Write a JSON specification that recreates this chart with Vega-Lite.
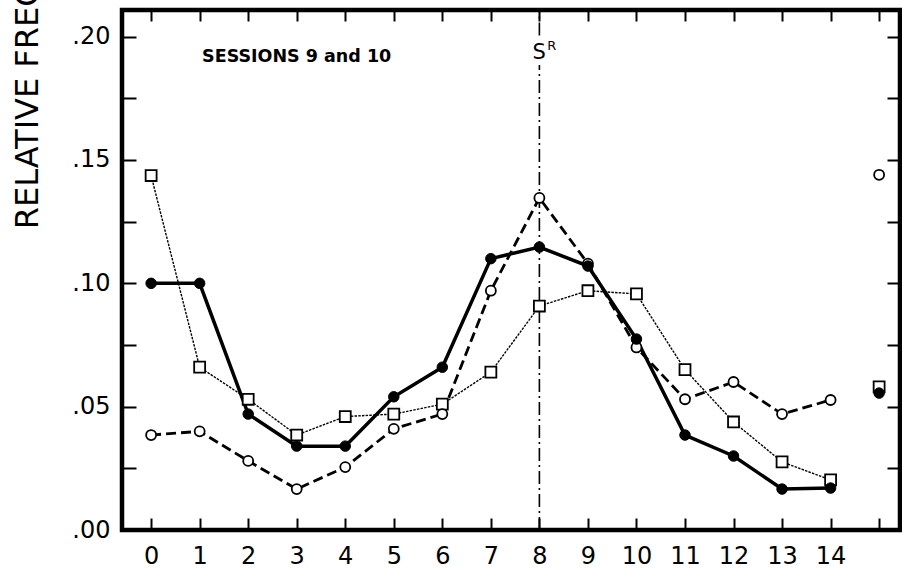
{
  "$schema": "https://vega.github.io/schema/vega-lite/v6.json",
  "width": 778,
  "height": 520,
  "autosize": "none",
  "padding": {"left": 122, "top": 10, "right": 2, "bottom": 41},
  "background": "white",
  "config": {
    "view": {"stroke": "black", "strokeWidth": 4.5},
    "axis": {"grid": false, "domain": false, "tickColor": "black", "tickWidth": 2, "labelColor": "black", "labelFont": "DejaVu Sans", "labelFontSize": 24}
  },
  "datasets": {
    "pts": [
      {"x": 0, "y": 0.100, "s": "filled"}, {"x": 1, "y": 0.100, "s": "filled"}, {"x": 2, "y": 0.047, "s": "filled"}, {"x": 3, "y": 0.034, "s": "filled"}, {"x": 4, "y": 0.034, "s": "filled"}, {"x": 5, "y": 0.054, "s": "filled"}, {"x": 6, "y": 0.066, "s": "filled"}, {"x": 7, "y": 0.110, "s": "filled"}, {"x": 8, "y": 0.1147, "s": "filled"}, {"x": 9, "y": 0.107, "s": "filled"}, {"x": 10, "y": 0.0774, "s": "filled"}, {"x": 11, "y": 0.0385, "s": "filled"}, {"x": 12, "y": 0.030, "s": "filled"}, {"x": 13, "y": 0.0166, "s": "filled"}, {"x": 14, "y": 0.017, "s": "filled"}, {"x": 15, "y": 0.0555, "s": "filled"},
      {"x": 0, "y": 0.0385, "s": "circle"}, {"x": 1, "y": 0.040, "s": "circle"}, {"x": 2, "y": 0.028, "s": "circle"}, {"x": 3, "y": 0.0166, "s": "circle"}, {"x": 4, "y": 0.0255, "s": "circle"}, {"x": 5, "y": 0.041, "s": "circle"}, {"x": 6, "y": 0.047, "s": "circle"}, {"x": 7, "y": 0.097, "s": "circle"}, {"x": 8, "y": 0.1346, "s": "circle"}, {"x": 9, "y": 0.108, "s": "circle"}, {"x": 10, "y": 0.074, "s": "circle"}, {"x": 11, "y": 0.053, "s": "circle"}, {"x": 12, "y": 0.060, "s": "circle"}, {"x": 13, "y": 0.047, "s": "circle"}, {"x": 14, "y": 0.0527, "s": "circle"}, {"x": 15, "y": 0.144, "s": "circle"},
      {"x": 0, "y": 0.1437, "s": "square"}, {"x": 1, "y": 0.066, "s": "square"}, {"x": 2, "y": 0.053, "s": "square"}, {"x": 3, "y": 0.0385, "s": "square"}, {"x": 4, "y": 0.046, "s": "square"}, {"x": 5, "y": 0.047, "s": "square"}, {"x": 6, "y": 0.051, "s": "square"}, {"x": 7, "y": 0.064, "s": "square"}, {"x": 8, "y": 0.0908, "s": "square"}, {"x": 9, "y": 0.097, "s": "square"}, {"x": 10, "y": 0.0957, "s": "square"}, {"x": 11, "y": 0.065, "s": "square"}, {"x": 12, "y": 0.0438, "s": "square"}, {"x": 13, "y": 0.0276, "s": "square"}, {"x": 14, "y": 0.0203, "s": "square"}, {"x": 15, "y": 0.058, "s": "square"}
    ],
    "sr": [
      {"x": 8, "y": 0, "y2": 0.1885},
      {"x": 8, "y": 0.2005, "y2": 0.2108}
    ],
    "labels": [
      {"x": 1.05, "y": 0.1917, "t": "SESSIONS 9 and 10"}
    ]
  },
  "resolve": {"axis": {"x": "independent", "y": "independent"}},
  "layer": [
    {
      "data": {"name": "sr"},
      "mark": {"type": "rule", "color": "black", "strokeWidth": 1.6, "strokeDash": [13, 4, 2, 4]},
      "encoding": {
        "x": {"field": "x", "type": "quantitative", "scale": {"domain": [-0.6, 15.43], "nice": false, "zero": false},
          "axis": {"orient": "bottom", "offset": -12, "values": [0,1,2,3,4,5,6,7,8,9,10,11,12,13,14,15], "tickSize": 12, "labelPadding": 14, "labelExpr": "datum.value <= 14 ? format(datum.value, 'd') : ''", "title": null, "labelFlush": false, "labelOverlap": false}},
        "y": {"field": "y", "type": "quantitative", "scale": {"domain": [0, 0.2108], "nice": false, "zero": false},
          "axis": {"orient": "left", "offset": -14, "values": [0, 0.025, 0.05, 0.075, 0.1, 0.125, 0.15, 0.175, 0.2], "tickSize": 14, "labelPadding": 12, "labelExpr": "round(datum.value * 1000) % 50 == 0 ? replace(format(datum.value, '.2f'), '0.', '.') : ''", "labelFlush": false, "labelOverlap": false,
            "title": "RELATIVE FREQUENCY", "titleFont": "DejaVu Sans", "titleFontSize": 32, "titleFontWeight": "normal", "titleColor": "black", "titleAngle": -90, "titleX": -109, "titleY": 40.5, "titleAlign": "center", "titleBaseline": "middle"}},
        "y2": {"field": "y2"}
      }
    },
    {
      "data": {"name": "labels"},
      "mark": {"type": "text", "font": "DejaVu Sans", "fontWeight": "bold", "fontSize": 17.5, "align": "left", "baseline": "middle", "color": "black"},
      "encoding": {
        "x": {"field": "x", "type": "quantitative", "scale": {"domain": [-0.6, 15.43], "nice": false, "zero": false},
          "axis": {"orient": "top", "offset": -11, "values": [0,1,2,3,4,5,6,7,8,9,10,11,12,13,14,15], "tickSize": 11, "labels": false, "title": null}},
        "y": {"field": "y", "type": "quantitative", "scale": {"domain": [0, 0.2108], "nice": false, "zero": false},
          "axis": {"orient": "right", "offset": -13, "values": [0, 0.025, 0.05, 0.075, 0.1, 0.125, 0.15, 0.175, 0.2], "tickSize": 13, "labels": false, "title": null}},
        "text": {"field": "t"}
      }
    },
    {
      "data": {"values": [{"x": 7.995, "y": 0.1935, "t": "S"}]},
      "mark": {"type": "text", "font": "DejaVu Sans", "fontSize": 21, "align": "center", "baseline": "middle", "color": "black"},
      "encoding": {
        "x": {"field": "x", "type": "quantitative", "scale": {"domain": [-0.6, 15.43], "nice": false, "zero": false}, "axis": null},
        "y": {"field": "y", "type": "quantitative", "scale": {"domain": [0, 0.2108], "nice": false, "zero": false}, "axis": null},
        "text": {"field": "t"}
      }
    },
    {
      "data": {"values": [{"x": 8.16, "y": 0.1962, "t": "R"}]},
      "mark": {"type": "text", "font": "DejaVu Sans", "fontSize": 13, "align": "left", "baseline": "middle", "color": "black"},
      "encoding": {
        "x": {"field": "x", "type": "quantitative", "scale": {"domain": [-0.6, 15.43], "nice": false, "zero": false}, "axis": null},
        "y": {"field": "y", "type": "quantitative", "scale": {"domain": [0, 0.2108], "nice": false, "zero": false}, "axis": null},
        "text": {"field": "t"}
      }
    },
    {
      "data": {"name": "pts"},
      "transform": [{"filter": "datum.s == 'square' && datum.x <= 14"}],
      "mark": {"type": "line", "color": "black", "strokeWidth": 1.4, "strokeDash": [2.5, 1.2]},
      "encoding": {
        "x": {"field": "x", "type": "quantitative", "scale": {"domain": [-0.6, 15.43], "nice": false, "zero": false}, "axis": null},
        "y": {"field": "y", "type": "quantitative", "scale": {"domain": [0, 0.2108], "nice": false, "zero": false}, "axis": null}
      }
    },
    {
      "data": {"name": "pts"},
      "transform": [{"filter": "datum.s == 'circle' && datum.x <= 14"}],
      "mark": {"type": "line", "color": "black", "strokeWidth": 2.8, "strokeDash": [10, 5]},
      "encoding": {
        "x": {"field": "x", "type": "quantitative", "scale": {"domain": [-0.6, 15.43], "nice": false, "zero": false}, "axis": null},
        "y": {"field": "y", "type": "quantitative", "scale": {"domain": [0, 0.2108], "nice": false, "zero": false}, "axis": null}
      }
    },
    {
      "data": {"name": "pts"},
      "transform": [{"filter": "datum.s == 'filled' && datum.x <= 14"}],
      "mark": {"type": "line", "color": "black", "strokeWidth": 3.5},
      "encoding": {
        "x": {"field": "x", "type": "quantitative", "scale": {"domain": [-0.6, 15.43], "nice": false, "zero": false}, "axis": null},
        "y": {"field": "y", "type": "quantitative", "scale": {"domain": [0, 0.2108], "nice": false, "zero": false}, "axis": null}
      }
    },
    {
      "data": {"name": "pts"},
      "transform": [{"filter": "datum.s == 'square'"}],
      "mark": {"type": "point", "shape": "square", "filled": true, "fill": "white", "stroke": "black", "strokeWidth": 1.8, "size": 120, "opacity": 1},
      "encoding": {
        "x": {"field": "x", "type": "quantitative", "scale": {"domain": [-0.6, 15.43], "nice": false, "zero": false}, "axis": null},
        "y": {"field": "y", "type": "quantitative", "scale": {"domain": [0, 0.2108], "nice": false, "zero": false}, "axis": null}
      }
    },
    {
      "data": {"name": "pts"},
      "transform": [{"filter": "datum.s == 'circle'"}],
      "mark": {"type": "point", "shape": "circle", "filled": true, "fill": "white", "stroke": "black", "strokeWidth": 1.8, "size": 100, "opacity": 1},
      "encoding": {
        "x": {"field": "x", "type": "quantitative", "scale": {"domain": [-0.6, 15.43], "nice": false, "zero": false}, "axis": null},
        "y": {"field": "y", "type": "quantitative", "scale": {"domain": [0, 0.2108], "nice": false, "zero": false}, "axis": null}
      }
    },
    {
      "data": {"name": "pts"},
      "transform": [{"filter": "datum.s == 'filled'"}],
      "mark": {"type": "point", "shape": "circle", "filled": true, "fill": "black", "stroke": "black", "strokeWidth": 1, "size": 110, "opacity": 1},
      "encoding": {
        "x": {"field": "x", "type": "quantitative", "scale": {"domain": [-0.6, 15.43], "nice": false, "zero": false}, "axis": null},
        "y": {"field": "y", "type": "quantitative", "scale": {"domain": [0, 0.2108], "nice": false, "zero": false}, "axis": null}
      }
    }
  ]
}
